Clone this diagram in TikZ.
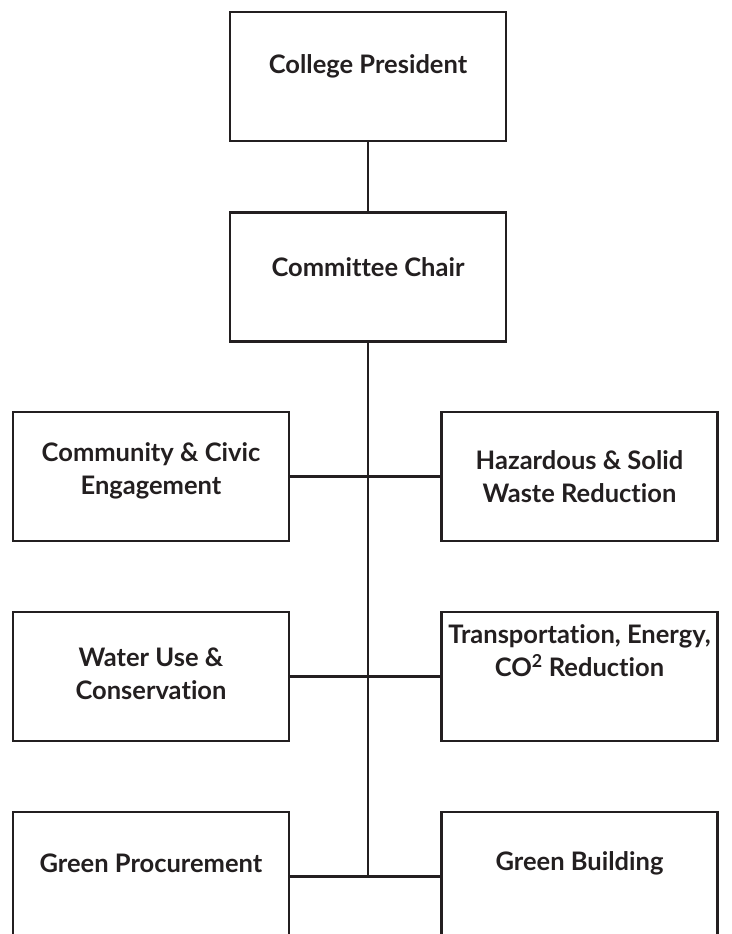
\documentclass[tikz,border=0pt]{standalone}
\usepackage{fontspec}
\setmainfont{Lato}[Ligatures={NoCommon}]
\usetikzlibrary{positioning}
\definecolor{ink}{HTML}{231F20}

\begin{document}
\begin{tikzpicture}[x=1pt,y=-1pt,
    box/.style={draw=ink,line width=2.8pt,minimum width=276pt,minimum height=129pt,inner sep=0pt},
    txt/.style={align=center,text=ink,font=\fontsize{25.5}{33}\selectfont\bfseries},
    link/.style={draw=ink,line width=2.3pt}]
    \useasboundingbox (0,0) rectangle (731,934);
    \clip (0,0) rectangle (731,934);

    % Top of the chart
    \node[box] (P) at (368,76.5) {};
    \node[box] (C) at (368,277) {};

    % Committees, left and right
    \node[box] (L1) at (151,476.5) {};
    \node[box] (R1) at (579.5,476.5) {};
    \node[box] (L2) at (151,676.5) {};
    \node[box] (R2) at (579.5,676.5) {};
    \node[box] (L3) at (151,876.5) {};
    \node[box] (R3) at (579.5,876.5) {};

    % Texts
    \node[txt] (tP) at ([yshift=10pt]P) {College President};
    \node[txt] (tC) at ([yshift=10pt]C) {Committee Chair};
    \node[txt] (tL1) at ([yshift=6pt]L1) {Community \& Civic\\Engagement};
    \node[txt] (tR1) at ([yshift=0pt]R1) {Hazardous \& Solid\\Waste Reduction};
    \node[txt] (tL2) at ([yshift=3pt]L2) {Water Use \&\\Conservation};
    \node[txt] (tR2) at ([yshift=26pt]R2) {Transportation, Energy,\\CO\textsuperscript{2} Reduction};
    \node[txt] (tL3) at ([yshift=13pt]L3) {Green Procurement};
    \node[txt] (tR3) at ([yshift=13pt]R3) {Green Building};

    % Lines
    \coordinate (J) at (C.south |- L3);
    \draw[link] (P) -- (C);
    \draw[link] (C) -- (J);
    \draw[link] (L1) -- (R1);
    \draw[link] (L2) -- (R2);
    \draw[link] (L3) -- (R3);
\end{tikzpicture}
\end{document}
